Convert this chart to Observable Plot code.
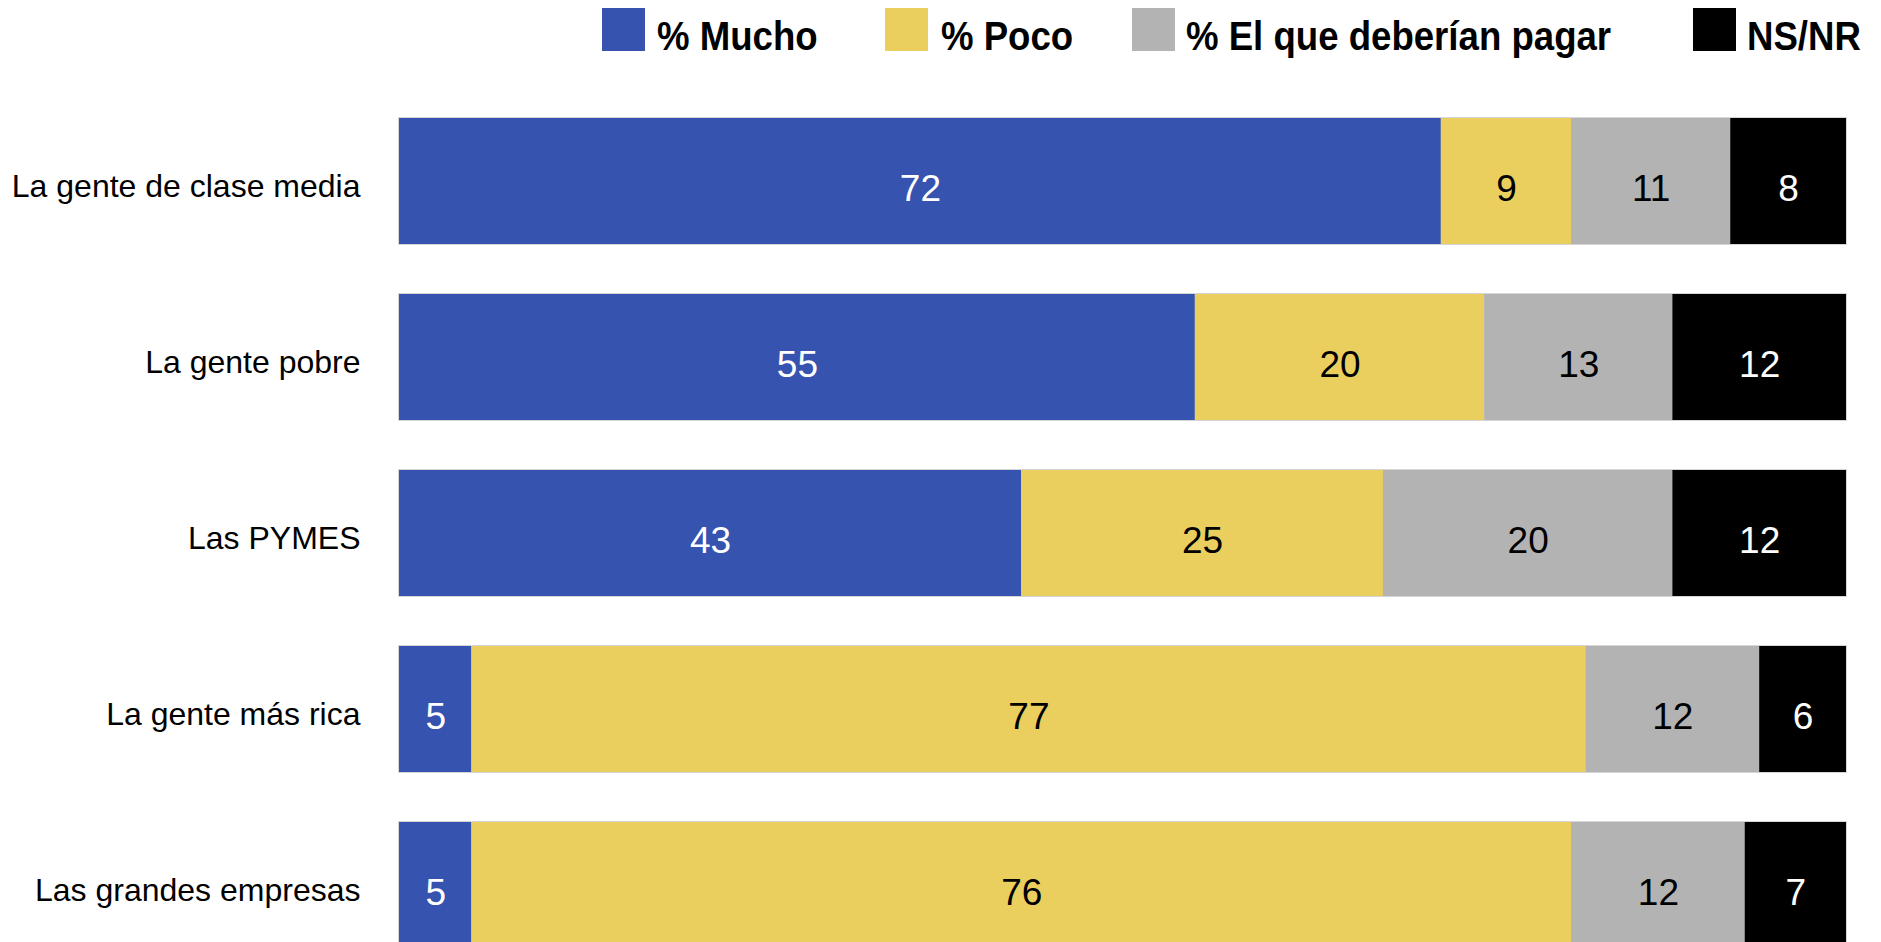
<!DOCTYPE html>
<html>
<head>
<meta charset="utf-8">
<script src="https://cdn.jsdelivr.net/npm/d3@7"></script>
<script src="https://cdn.jsdelivr.net/npm/@observablehq/plot@0.6"></script>
<style>
  html, body { margin: 0; padding: 0; background: #fff; overflow: hidden; }
  body { font-family: "Liberation Sans", Arial, sans-serif; }
  #legend { position: relative; height: 64px; width: 1881px; }
  #legend .box { position: absolute; top: 8px; width: 43px; height: 43px; }
  #legend .lab { position: absolute; top: 16px; font-size: 40px; line-height: 40px; font-weight: bold; color: #000; white-space: nowrap; transform: scaleX(0.915); transform-origin: left center; }
</style>
</head>
<body>
<div id="legend"></div>
<div id="chart"></div>
<script>
const categories = ["La gente de clase media", "La gente pobre", "Las PYMES", "La gente más rica", "Las grandes empresas"];
const seriesNames = ["% Mucho", "% Poco", "% El que deberían pagar", "NS/NR"];
const seriesColors = ["#3653b0", "#eacf5e", "#b3b3b3", "#000000"];
const mucho = [72, 55, 43, 5, 5];
const poco = [9, 20, 25, 77, 76];
const deberian = [11, 13, 20, 12, 12];
const nsnr = [8, 12, 12, 6, 7];
const whiteLabelSeries = ["% Mucho", "NS/NR"];

const seriesValues = [mucho, poco, deberian, nsnr];
const data = [];
categories.forEach((c, i) => {
  seriesNames.forEach((s, j) => {
    data.push({cat: c, series: s, value: seriesValues[j][i]});
  });
});
const totals = categories.map((c, i) => ({cat: c, total: seriesValues.reduce((a, v) => a + v[i], 0)}));

// legend
const legendX = [[602, 657], [885, 941], [1132, 1186], [1693, 1747]];
const legend = document.getElementById("legend");
seriesNames.forEach((s, j) => {
  const b = document.createElement("div");
  b.className = "box";
  b.style.left = legendX[j][0] + "px";
  b.style.background = seriesColors[j];
  legend.appendChild(b);
  const t = document.createElement("span");
  t.className = "lab";
  t.style.left = legendX[j][1] + "px";
  t.textContent = s;
  legend.appendChild(t);
});

const stackOpts = {x: "value", y: "cat", z: "series", order: seriesNames};
const isWhite = d => whiteLabelSeries.includes(d.series);

const chart = Plot.plot({
  width: 1881,
  height: 909,
  marginTop: 28,
  marginBottom: 0,
  marginLeft: 399,
  marginRight: 35,
  style: {fontFamily: '"Liberation Sans", Arial, sans-serif', background: "#fff", color: "#000"},
  x: {domain: [0, 100], axis: null},
  y: {domain: categories, paddingInner: 0.286, paddingOuter: 0.143, label: null},
  color: {domain: seriesNames, range: seriesColors},
  marks: [
    Plot.barX(totals, {x: "total", y: "cat", fill: "#d6d6d6", insetTop: -1, insetBottom: -1, insetRight: -1, insetLeft: -1}),
    Plot.barX(data, Plot.stackX({...stackOpts, fill: "series"})),
    Plot.text(data, Plot.stackX({...stackOpts, text: d => isWhite(d) ? null : String(d.value), fill: "#000", fontSize: 37, dy: 8})),
    Plot.text(data, Plot.stackX({...stackOpts, text: d => isWhite(d) ? String(d.value) : null, fill: "#fff", fontSize: 37, dy: 8})),
    Plot.axisY({tickSize: 0, tickPadding: 39, fontSize: 32, label: null, dy: 5})
  ]
});
document.getElementById("chart").appendChild(chart);
</script>
</body>
</html>
